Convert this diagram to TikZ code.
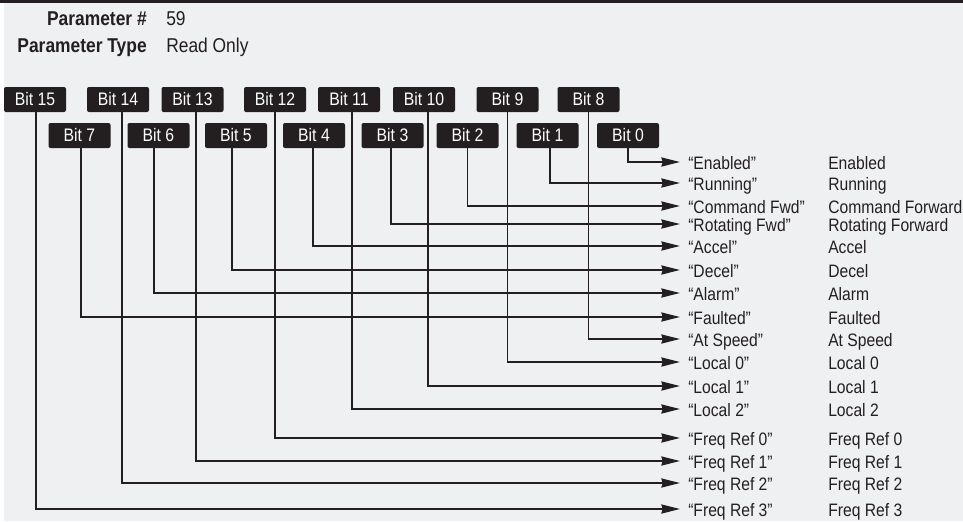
\documentclass[tikz,border=0pt]{standalone}
\usepackage{fontspec}
\setmainfont{Liberation Sans}[FakeStretch=0.87]
\usetikzlibrary{arrows.meta}
\definecolor{ink}{HTML}{231F20}
\definecolor{bg}{HTML}{EFF0F2}
\begin{document}
\begin{tikzpicture}[x=0.75pt,y=-0.75pt,
  bitbox/.style={fill=ink,text=white,rounded corners=1.5pt,minimum width=46.5pt,
    minimum height=18.75pt,inner sep=0pt,text height=9.6pt,text depth=0pt,
    font=\fontsize{13.6}{15}\selectfont},
  qlab/.style={anchor=west,inner xsep=6pt,inner ysep=0pt,text height=10.5pt,
    text depth=0pt,text=ink,font=\fontsize{13.5}{15}\selectfont},
  dlab/.style={anchor=west,inner sep=0pt,text height=10.5pt,text depth=0pt,
    text=ink,font=\fontsize{13.5}{15}\selectfont},
  hdr/.style={inner sep=0pt,text=ink,font=\fontsize{15}{17}\selectfont},
  hdrb/.style={hdr,font=\fontsize{15}{17}\selectfont\bfseries},
  link/.style={draw=ink,line width=1.4pt,
    -{Stealth[length=14pt,width=6.8pt,inset=1pt]}}
]
\useasboundingbox (0,0) rectangle (963,521);
\fill[bg] (4,3) rectangle (963,521);
\draw[ink,line width=1.5pt] (0,1.5) -- (963,1.5);

% header
\node[hdrb,anchor=base east] (h1) at (147,26) {Parameter \#};
\node[hdr,anchor=base west] (v1) at (166,26) {59};
\node[hdrb,anchor=base east] (h2) at (147,52) {Parameter Type};
\node[hdr,anchor=base west] (v2) at (166,52) {Read Only};

% bit boxes
\node[bitbox] (b15) at (35,99.5) {Bit 15};
\node[bitbox] (b14) at (118,99.5) {Bit 14};
\node[bitbox] (b13) at (192.5,99.5) {Bit 13};
\node[bitbox] (b12) at (275,99.5) {Bit 12};
\node[bitbox] (b11) at (349,99.5) {Bit 11};
\node[bitbox] (b10) at (424,99.5) {Bit 10};
\node[bitbox] (b9) at (507.5,99.5) {Bit 9};
\node[bitbox] (b8) at (588.5,99.5) {Bit 8};
\node[bitbox] (b7) at (79.5,135.5) {Bit 7};
\node[bitbox] (b6) at (158.5,135.5) {Bit 6};
\node[bitbox] (b5) at (236,135.5) {Bit 5};
\node[bitbox] (b4) at (314,135.5) {Bit 4};
\node[bitbox] (b3) at (392.5,135.5) {Bit 3};
\node[bitbox] (b2) at (467.5,135.5) {Bit 2};
\node[bitbox] (b1) at (547.5,135.5) {Bit 1};
\node[bitbox] (b0) at (628,135.5) {Bit 0};

% labels
\node[qlab] (q0) at (680,162) {“Enabled”};
\node[qlab] (q1) at (680,183) {“Running”};
\node[qlab] (q2) at (680,206) {“Command Fwd”};
\node[qlab] (q3) at (680,224) {“Rotating Fwd”};
\node[qlab] (q4) at (680,246) {“Accel”};
\node[qlab] (q5) at (680,270) {“Decel”};
\node[qlab] (q6) at (680,293) {“Alarm”};
\node[qlab] (q7) at (680,317) {“Faulted”};
\node[qlab] (q8) at (680,339) {“At Speed”};
\node[qlab] (q9) at (680,362) {“Local 0”};
\node[qlab] (q10) at (680,386) {“Local 1”};
\node[qlab] (q11) at (680,409) {“Local 2”};
\node[qlab] (q12) at (680,438) {“Freq Ref 0”};
\node[qlab] (q13) at (680,461) {“Freq Ref 1”};
\node[qlab] (q14) at (680,483) {“Freq Ref 2”};
\node[qlab] (q15) at (680,509) {“Freq Ref 3”};

\node[dlab] (d0) at (828,162) {Enabled};
\node[dlab] (d1) at (828,183) {Running};
\node[dlab] (d2) at (828,206) {Command Forward};
\node[dlab] (d3) at (828,224) {Rotating Forward};
\node[dlab] (d4) at (828,246) {Accel};
\node[dlab] (d5) at (828,270) {Decel};
\node[dlab] (d6) at (828,293) {Alarm};
\node[dlab] (d7) at (828,317) {Faulted};
\node[dlab] (d8) at (828,339) {At Speed};
\node[dlab] (d9) at (828,362) {Local 0};
\node[dlab] (d10) at (828,386) {Local 1};
\node[dlab] (d11) at (828,409) {Local 2};
\node[dlab] (d12) at (828,438) {Freq Ref 0};
\node[dlab] (d13) at (828,461) {Freq Ref 1};
\node[dlab] (d14) at (828,483) {Freq Ref 2};
\node[dlab] (d15) at (828,509) {Freq Ref 3};

% connectors
\draw[link] (b0.south) |- (q0.west);
\draw[link] ([xshift=1.9pt]b1.south) |- (q1.west);
\draw[link] (b2.south) |- (q2.west);
\draw[link] ([xshift=-1.1pt]b3.south) |- (q3.west);
\draw[link] ([xshift=-0.75pt]b4.south) |- (q4.west);
\draw[link] ([xshift=-3pt]b5.south) |- (q5.west);
\draw[link] ([xshift=-3.4pt]b6.south) |- (q6.west);
\draw[link] ([xshift=1.1pt]b7.south) |- (q7.west);
\draw[link] (b8.south) |- (q8.west);
\draw[link] (b9.south) |- (q9.west);
\draw[link] ([xshift=3pt]b10.south) |- (q10.west);
\draw[link] ([xshift=2.25pt]b11.south) |- (q11.west);
\draw[link] (b12.south) |- (q12.west);
\draw[link] ([xshift=2.6pt]b13.south) |- (q13.west);
\draw[link] ([xshift=3pt]b14.south) |- (q14.west);
\draw[link] ([xshift=0.75pt]b15.south) |- (q15.west);
\end{tikzpicture}
\end{document}
